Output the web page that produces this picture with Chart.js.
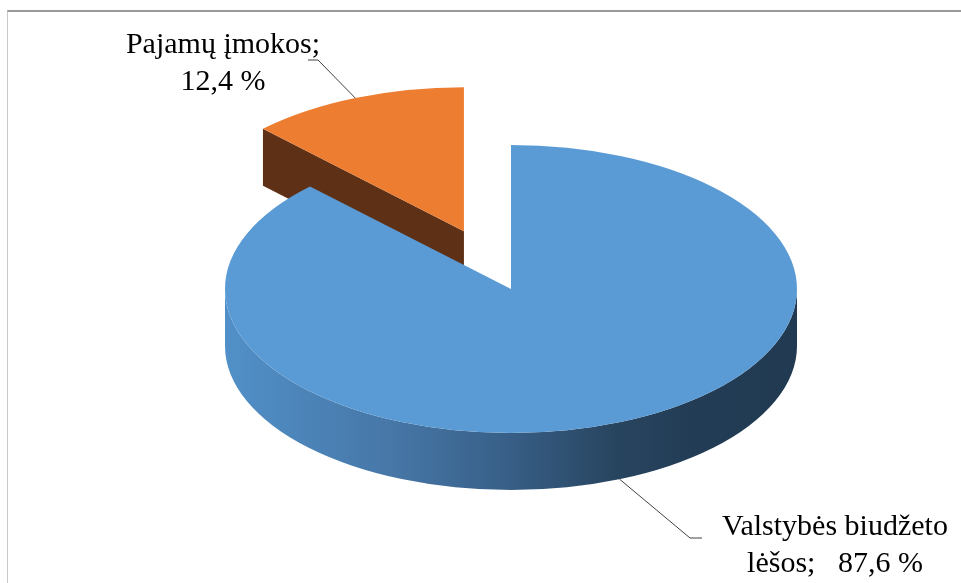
<!DOCTYPE html>
<html>
<head>
<meta charset="utf-8">
<script src="https://cdn.jsdelivr.net/npm/chart.js@4.4.1/dist/chart.umd.min.js"></script>
<style>
body{margin:0;background:#fff}
#wrap{position:relative;width:961px;height:583px}
#frame{position:absolute;left:7px;top:10px;right:0;bottom:0;border-top:2px solid #9a9a9a;border-left:1px solid #c8c8c8}
</style>
</head>
<body>
<div id="wrap"><div id="frame"></div><canvas id="pie"></canvas></div>
<script>
// data
var labels = ['Valstybės biudžeto lėšos', 'Pajamų įmokos']
var shares = [87.6, 12.4]
var labelLines = [['Valstybės biudžeto', 'lėšos;   87,6 %'], ['Pajamų įmokos;', '12,4 %']]

// look
var topColors = ['#5b9bd5', '#ed7d31']
var tilt = 144 / 286
var depth = 57
var labelPos = [{x: 835, y: 535, elbow: [690, 538], end: 702}, {x: 223, y: 53, elbow: [318, 60], end: 308}]

function sideFill(ctx, i, s){
    if(i == 1) return '#5e3116'
    var g = ctx.createLinearGradient(s.cx - s.r, 0, s.cx + s.r, 0)
    g.addColorStop(0, '#5190c8')
    g.addColorStop(0.3, '#4676a6')
    g.addColorStop(0.5, '#375e86')
    g.addColorStop(0.68, '#284560')
    g.addColorStop(0.8, '#233d56')
    g.addColorStop(1, '#213a52')
    return g
}

function slices(chart){
    var meta = chart.getDatasetMeta(0)
    return meta.data.map(function(el, i){
        var p = el.getProps(['x', 'y', 'startAngle', 'endAngle', 'outerRadius'], true)
        var mid = (p.startAngle + p.endAngle) / 2
        var off = el.options.offset || 0
        return {
            i: i, r: p.outerRadius, a0: p.startAngle, a1: p.endAngle, mid: mid,
            cx: p.x + Math.cos(mid) * off,
            cy: p.y + Math.sin(mid) * off * tilt,
            color: el.options.backgroundColor
        }
    })
}

var pie3d = {
    id: 'pie3d',
    beforeDatasetsDraw: function(chart){
        var ctx = chart.ctx
        var list = slices(chart)
        // draw back to front
        list.sort(function(a, b){ return Math.sin(a.mid) - Math.sin(b.mid) })
        list.forEach(function(s){
            var rx = s.r, ry = s.r * tilt
            var side = sideFill(ctx, s.i, s)
            ctx.save()
            // cut faces
            var faces = [[s.a0, Math.cos(s.a0) < -1e-6], [s.a1, Math.cos(s.a1) > 1e-6]]
            faces.forEach(function(f){
                if(!f[1]) return
                var ex = s.cx + Math.cos(f[0]) * rx, ey = s.cy + Math.sin(f[0]) * ry
                ctx.beginPath()
                ctx.moveTo(s.cx, s.cy)
                ctx.lineTo(ex, ey)
                ctx.lineTo(ex, ey + depth)
                ctx.lineTo(s.cx, s.cy + depth)
                ctx.closePath()
                ctx.fillStyle = side
                ctx.fill()
            })
            // front rim
            var bases = [-2 * Math.PI, 0, 2 * Math.PI, 4 * Math.PI]
            bases.forEach(function(b){
                var lo = Math.max(s.a0, b), hi = Math.min(s.a1, b + Math.PI)
                if(hi <= lo) return
                ctx.beginPath()
                ctx.ellipse(s.cx, s.cy, rx, ry, 0, lo, hi)
                ctx.ellipse(s.cx, s.cy + depth, rx, ry, 0, hi, lo, true)
                ctx.closePath()
                ctx.fillStyle = side
                ctx.fill()
            })
            // top face
            ctx.beginPath()
            ctx.moveTo(s.cx, s.cy)
            ctx.ellipse(s.cx, s.cy, rx, ry, 0, s.a0, s.a1)
            ctx.closePath()
            ctx.fillStyle = s.color
            ctx.fill()
            ctx.restore()
        })
        return false
    },
    afterDraw: function(chart){
        var ctx = chart.ctx
        var list = slices(chart)
        ctx.save()
        list.forEach(function(s){
            var rx = s.r, ry = s.r * tilt
            var front = Math.sin(s.mid) > 0
            var ax = s.cx + Math.cos(s.mid) * rx
            var ay = s.cy + Math.sin(s.mid) * ry + (front ? depth : 0)
            var lp = labelPos[s.i]
            ctx.strokeStyle = '#404040'
            ctx.lineWidth = 1
            ctx.beginPath()
            ctx.moveTo(ax, ay)
            ctx.lineTo(lp.elbow[0], lp.elbow[1])
            ctx.lineTo(lp.end, lp.elbow[1])
            ctx.stroke()
            ctx.fillStyle = '#000'
            ctx.font = '30px "Liberation Serif", "Times New Roman", serif'
            ctx.textAlign = 'center'
            ctx.textBaseline = 'alphabetic'
            labelLines[s.i].forEach(function(t, k){
                ctx.fillText(t, lp.x, lp.y + k * 37)
            })
        })
        ctx.restore()
    }
}

var chart = new Chart(document.getElementById('pie'), {
    type: 'pie',
    plugins: [pie3d],
    data: {
        labels: labels,
        datasets: [{
            data: shares,
            backgroundColor: topColors,
            borderWidth: 0,
            offset: [0, 124],
            hoverOffset: 0
        }]
    },
    options: {
        responsive: true,
        maintainAspectRatio: false,
        animation: false,
        radius: 286,
        layout: {padding: {left: 61, right: 0, top: 0, bottom: 5}},
        plugins: {
            legend: {display: false},
            tooltip: {enabled: false}
        }
    }
})
</script>
</body>
</html>
